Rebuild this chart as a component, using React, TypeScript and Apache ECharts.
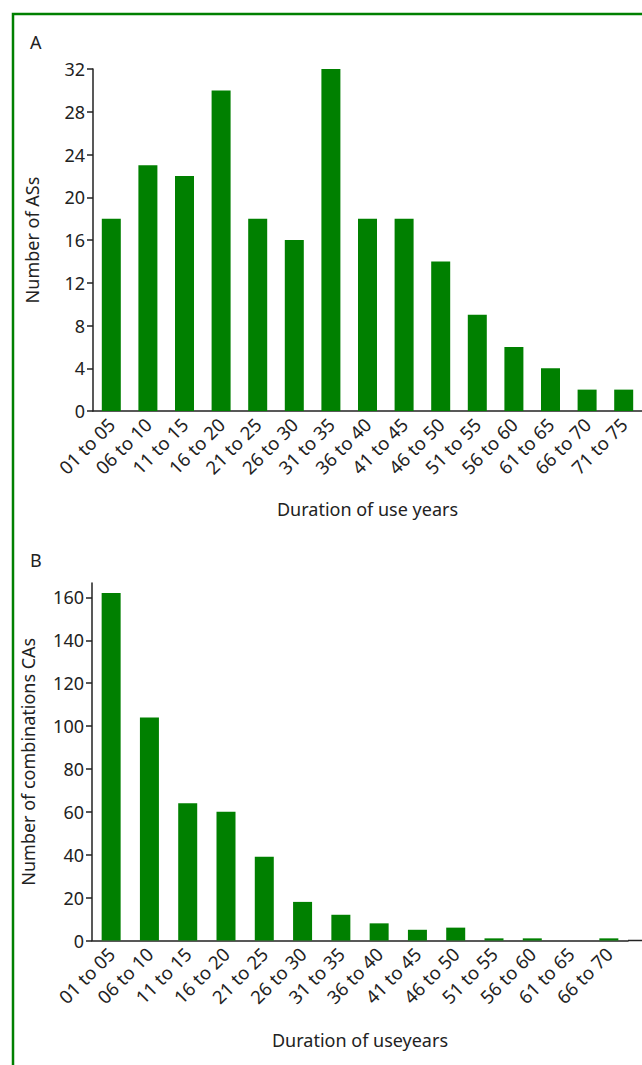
import React, { useEffect, useRef } from "react";
import * as echarts from "echarts";

const catsA = ["01 to 05","06 to 10","11 to 15","16 to 20","21 to 25","26 to 30","31 to 35","36 to 40","41 to 45","46 to 50","51 to 55","56 to 60","61 to 65","66 to 70","71 to 75"];
const valsA = [18, 23, 22, 30, 18, 16, 32, 18, 18, 14, 9, 6, 4, 2, 2];
const catsB = ["01 to 05","06 to 10","11 to 15","16 to 20","21 to 25","26 to 30","31 to 35","36 to 40","41 to 45","46 to 50","51 to 55","56 to 60","61 to 65","66 to 70"];
const valsB = [162, 104, 64, 60, 39, 18, 12, 8, 5, 6, 1, 1, 0, 1];
const ticksA = [0, 4, 8, 12, 16, 20, 24, 28, 32];
const ticksB = [0, 20, 40, 60, 80, 100, 120, 140, 160];

const GREEN = "#008000";
const AX = "#222222";
const FONT = "'Noto Sans', sans-serif";
const FS_NAME = 18;
const FS_Y = 18;
const FS_X = 18.5;

export default function App() {
  const ref = useRef<HTMLDivElement>(null);
  useEffect(() => {
    const chart = echarts.init(ref.current!, null, { renderer: "svg" });
    const yAxisCommon = (ticks: number[], name: string, gap: number) => ({
      type: "value",
      min: 0,
      name,
      nameLocation: "middle",
      nameGap: gap,
      nameTextStyle: { fontSize: FS_NAME, color: AX, fontFamily: FONT },
      splitLine: { show: false },
      axisLine: { show: true, lineStyle: { color: AX, width: 1.5 } },
      axisTick: { show: true, length: 6, customValues: ticks, lineStyle: { color: AX, width: 1.5 } },
      axisLabel: { customValues: ticks, fontSize: FS_Y, color: AX, fontFamily: FONT, margin: 8 },
    });
    const xAxisCommon = (cats: string[], name: string, gi: number, gap: number) => ({
      type: "category",
      gridIndex: gi,
      data: cats,
      name,
      nameLocation: "middle",
      nameGap: gap,
      nameTextStyle: { fontSize: FS_NAME, color: AX, fontFamily: FONT },
      axisLine: { show: true, lineStyle: { color: AX, width: 1.5 } },
      axisTick: { show: false },
      axisLabel: { rotate: 45, interval: 0, fontSize: FS_X, color: AX, fontFamily: FONT, margin: 10 },
    });
    chart.setOption({
      animation: false,
      backgroundColor: "#ffffff",
      grid: [
        { left: 93, top: 69, width: 549, height: 342 },
        { left: 92, top: 583, width: 536, height: 357.5 },
      ],
      xAxis: [
        xAxisCommon(catsA, "Duration of use years", 0, 89),
        xAxisCommon(catsB, "Duration of useyears", 1, 90),
      ],
      yAxis: [
        { ...yAxisCommon(ticksA, "Number of ASs", 52), gridIndex: 0, max: 32, interval: 4 },
        { ...yAxisCommon(ticksB, "Number of combinations CAs", 55), gridIndex: 1, max: 166.7, interval: 20 },
      ],
      series: [
        { type: "bar", xAxisIndex: 0, yAxisIndex: 0, data: valsA, barWidth: 19, itemStyle: { color: GREEN } },
        { type: "bar", xAxisIndex: 1, yAxisIndex: 1, data: valsB, barWidth: 19, itemStyle: { color: GREEN } },
      ],
      graphic: [
        { type: "rect", shape: { x: 13, y: 14, width: 700, height: 1100 }, style: { fill: "none", stroke: GREEN, lineWidth: 2.5 } },
        { type: "text", left: 30, top: 33, style: { text: "A", fontSize: FS_NAME, fill: AX, fontFamily: FONT } },
        { type: "text", left: 30, top: 551, style: { text: "B", fontSize: FS_NAME, fill: AX, fontFamily: FONT } },
        { type: "line", shape: { x1: 628, y1: 940.5, x2: 642, y2: 940.5 }, style: { stroke: AX, lineWidth: 1.5 } },
      ],
    });
    return () => chart.dispose();
  }, []);
  return <div ref={ref} style={{ position: "absolute", left: 0, top: 0, width: 642, height: 1065 }} />;
}
